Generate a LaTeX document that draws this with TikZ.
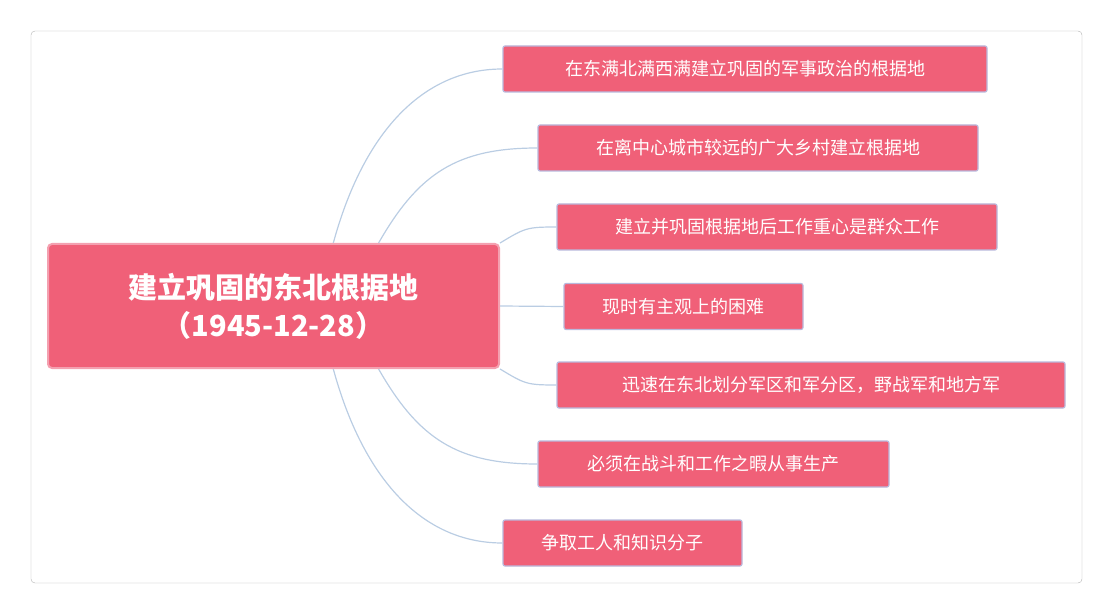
\documentclass[tikz,border=0pt]{standalone}
\usepackage{fontspec}
\setmainfont{Noto Sans CJK SC}
\usetikzlibrary{calc}
\definecolor{boxred}{HTML}{F06078}
\definecolor{rootedge}{HTML}{F4A0B0}
\definecolor{kidedge}{HTML}{B9B8DC}
\definecolor{linkc}{HTML}{BACDE3}
\tikzset{
 kid/.style={draw=kidedge,line width=1.2pt,fill=boxred,rounded corners=2pt,text=white,font=\fontsize{18}{22}\selectfont,minimum height=46pt,inner sep=0pt},
 rootbox/.style={draw=rootedge,line width=2pt,fill=boxred,rounded corners=4pt,text=white,font=\fontsize{29}{38}\selectfont\bfseries,minimum width=451pt,minimum height=124pt,align=center},
 link/.style={draw=linkc,line width=1.2pt}
}
\begin{document}
\begin{tikzpicture}[x=1pt,y=1pt]
\useasboundingbox (0,0) rectangle (1113,614);
\draw[gray!60,rounded corners=4pt] (31,31) rectangle (1082,583);
\node[rootbox] (root) at (273.5,308) {建立巩固的东北根据地\\（1945-12-28）};
\node[kid,minimum width=484pt] (k1) at (745,545) {在东满北满西满建立巩固的军事政治的根据地};
\node[kid,minimum width=440pt] (k2) at (758,466) {在离中心城市较远的广大乡村建立根据地};
\node[kid,minimum width=440pt] (k3) at (777,387) {建立并巩固根据地后工作重心是群众工作};
\node[kid,minimum width=239pt] (k4) at (683.5,307.5) {现时有主观上的困难};
\node[kid,minimum width=508pt] (k5) at (811,229) {迅速在东北划分军区和军分区，野战军和地方军};
\node[kid,minimum width=351pt] (k6) at (713.5,150) {必须在战斗和工作之暇从事生产};
\node[kid,minimum width=239pt] (k7) at (622.5,71) {争取工人和知识分子};
\coordinate (t1) at ($(root.north west)!0.632!(root.north east)$);
\coordinate (t2) at ($(root.north west)!0.732!(root.north east)$);
\coordinate (b1) at ($(root.south west)!0.632!(root.south east)$);
\coordinate (b2) at ($(root.south west)!0.732!(root.south east)$);
\begin{scope}[on background layer/.try]
\draw[link] (t1) .. controls +(30,110) and +(-80,0) .. (k1.west);
\draw[link] (t2) .. controls +(40,70) and +(-80,0) .. (k2.west);
\draw[link] (root.north east) .. controls +(25,15) and +(-30,0) .. (k3.west);
\draw[link] (root.east) -- (k4.west);
\draw[link] (root.south east) .. controls +(25,-15) and +(-30,0) .. (k5.west);
\draw[link] (b2) .. controls +(40,-70) and +(-80,0) .. (k6.west);
\draw[link] (b1) .. controls +(30,-110) and +(-80,0) .. (k7.west);
\end{scope}
\end{tikzpicture}
\end{document}
